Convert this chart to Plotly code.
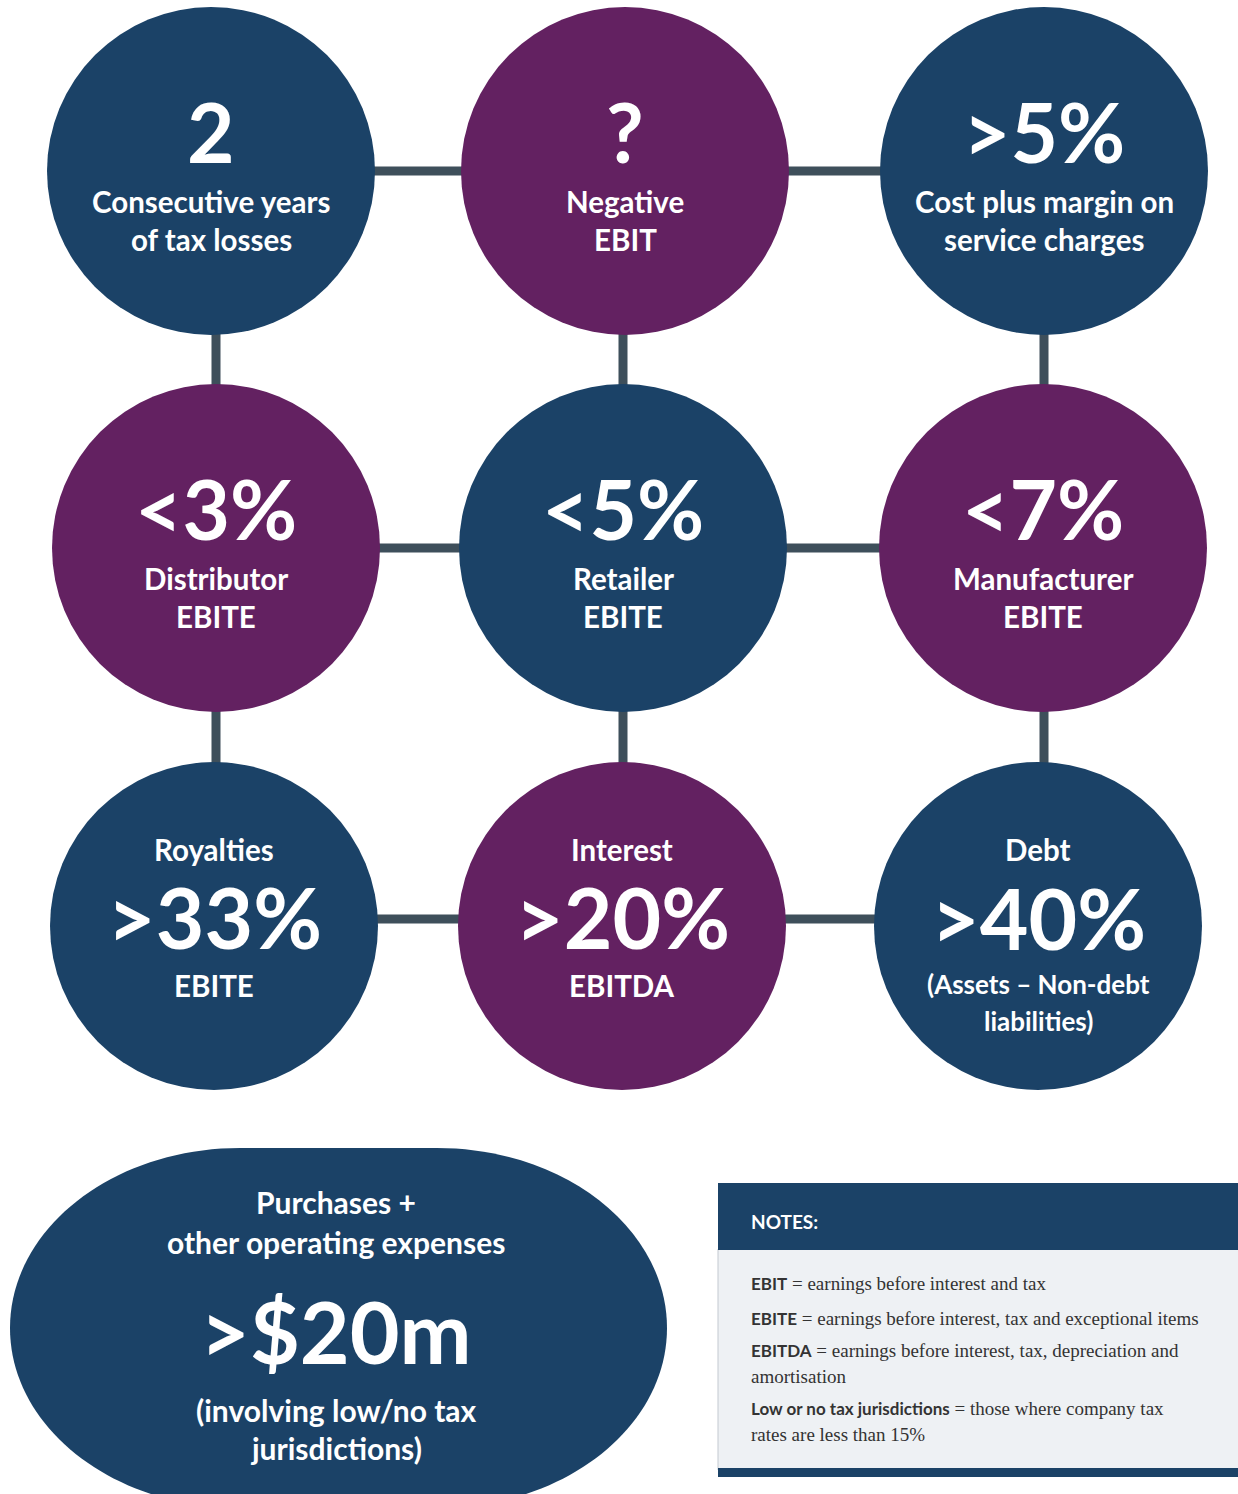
import plotly.graph_objects as go

# ---------------- data ----------------
metric_values = ["2", "?", ">5%", "<3%", "<5%", "<7%", ">33%", ">20%", ">40%"]
metric_headers = ["", "", "", "", "", "", "Royalties", "Interest", "Debt"]
metric_captions = [
    ["Consecutive years", "of tax losses"],
    ["Negative", "EBIT"],
    ["Cost plus margin on", "service charges"],
    ["Distributor", "EBITE"],
    ["Retailer", "EBITE"],
    ["Manufacturer", "EBITE"],
    ["EBITE"],
    ["EBITDA"],
    ["(Assets – Non-debt", "liabilities)"],
]
metric_kind = ["navy", "purple", "navy", "purple", "navy", "purple", "navy", "purple", "navy"]

pill_header = ["Purchases +", "other operating expenses"]
pill_value = ">$20m"
pill_footer = ["(involving low/no tax", "jurisdictions)"]

notes_title = "NOTES:"
notes_terms = ["EBIT", "EBITE", "EBITDA", "Low or no tax jurisdictions"]
notes_defs = [
    ["earnings before interest and tax"],
    ["earnings before interest, tax and exceptional items"],
    ["earnings before interest, tax, depreciation and", "amortisation"],
    ["those where company tax", "rates are less than 15%"],
]

# ---------------- layout (pixel positions) ----------------
W, H = 1238, 1494
NAVY = "#1b4267"
PURPLE = "#632161"
LINE = "#3e4f5b"
col_x = [[211, 625, 1044], [216, 623, 1043], [214, 622, 1038]]
row_y = [171, 548, 926]
R = 164
FONT = "Lato, 'Open Sans', sans-serif"

fig = go.Figure()
fig.add_trace(go.Scatter(x=[0, W], y=[0, H], mode="markers", marker=dict(opacity=0), hoverinfo="skip", showlegend=False))

shapes = []
# connectors
conn_x = [216, 623, 1044]
for r in range(3):
    yy = row_y[r] - (0 if r < 2 else 7)
    shapes.append(dict(type="line", x0=col_x[r][0], x1=col_x[r][2], y0=yy, y1=yy,
                       line=dict(color=LINE, width=9), layer="below"))
for c in range(3):
    shapes.append(dict(type="line", x0=conn_x[c], x1=conn_x[c], y0=row_y[0], y1=row_y[2],
                       line=dict(color=LINE, width=9), layer="below"))

annotations = []

def txt(x, y, s, size, bold=False, color="white", family=FONT, xanchor="center"):
    annotations.append(dict(x=x, y=y, xref="x", yref="y", text=("<b>%s</b>" % s) if bold else s,
                            showarrow=False, xanchor=xanchor, yanchor="middle", borderpad=0,
                            font=dict(family=family, size=size, color=color)))

for i in range(9):
    r, c = divmod(i, 3)
    cx, cy = col_x[r][c], row_y[r]
    col = NAVY if metric_kind[i] == "navy" else PURPLE
    shapes.append(dict(type="circle", x0=cx - R, x1=cx + R, y0=cy - R, y1=cy + R,
                       fillcolor=col, line=dict(width=0), layer="above"))
    if r < 2:
        txt(cx, cy - 40, metric_values[i], 82, bold=True)
        for k, line in enumerate(metric_captions[i]):
            txt(cx, cy + 30 + 38 * k, line, 29.5, bold=True)
    else:
        txt(cx, cy - 77, metric_headers[i], 29.5, bold=True)
        if len(metric_captions[i]) == 1:
            txt(cx, cy - 10, metric_values[i], 84, bold=True)
            txt(cx, cy + 59, metric_captions[i][0], 29.5, bold=True)
        else:
            txt(cx, cy - 9, metric_values[i], 84, bold=True)
            for k, line in enumerate(metric_captions[i]):
                txt(cx, cy + 58 + 37 * k, line, 26, bold=True)

# pill shape (rounded rect with bezier corners)
x0, x1, y0, y1 = 10, 667, 1148, 1508
rx, ry = 230, 180
k = 0.5523
path = (f"M {x0+rx},{y0} L {x1-rx},{y0} "
        f"C {x1-rx+rx*k},{y0} {x1},{y0+ry-ry*k} {x1},{y0+ry} "
        f"L {x1},{y1-ry} "
        f"C {x1},{y1-ry+ry*k} {x1-rx+rx*k},{y1} {x1-rx},{y1} "
        f"L {x0+rx},{y1} "
        f"C {x0+rx-rx*k},{y1} {x0},{y1-ry+ry*k} {x0},{y1-ry} "
        f"L {x0},{y0+ry} "
        f"C {x0},{y0+ry-ry*k} {x0+rx-rx*k},{y0} {x0+rx},{y0} Z")
shapes.append(dict(type="path", path=path, fillcolor=NAVY, line=dict(width=0), layer="above"))
px = 336
txt(px, 1202, pill_header[0], 30, bold=True)
txt(px, 1242, pill_header[1], 30, bold=True)
txt(px, 1330, pill_value, 86, bold=True)
txt(px, 1410, pill_footer[0], 30, bold=True)
txt(px, 1448, pill_footer[1], 30, bold=True)

# notes box
shapes.append(dict(type="rect", x0=718, x1=W + 2, y0=1249, y1=1470, fillcolor="#eef1f4",
                   line=dict(color="#c3c9d0", width=1), layer="above"))
shapes.append(dict(type="rect", x0=718, x1=W + 2, y0=1183, y1=1250, fillcolor=NAVY,
                   line=dict(width=0), layer="above"))
shapes.append(dict(type="rect", x0=718, x1=W + 2, y0=1468, y1=1477, fillcolor=NAVY,
                   line=dict(width=0), layer="above"))
txt(750, 1221, notes_title, 19, bold=True, family="Lato, sans-serif", xanchor="left")

SERIF = "'Liberation Serif', serif"
note_y = [[1283], [1318], [1350, 1376], [1408, 1434]]
for t, d, ys in zip(notes_terms, notes_defs, note_y):
    first = f"<span style='font-family:Lato;font-size:17px'><b>{t}</b></span> = {d[0]}"
    txt(750, ys[0], first, 19, color="#333333", family=SERIF, xanchor="left")
    for line, yy in zip(d[1:], ys[1:]):
        txt(750, yy, line, 19, color="#333333", family=SERIF, xanchor="left")

fig.update_layout(
    width=W, height=H, margin=dict(l=0, r=0, t=0, b=0),
    paper_bgcolor="white", plot_bgcolor="white",
    xaxis=dict(range=[0, W], visible=False, fixedrange=True),
    yaxis=dict(range=[H, 0], visible=False, fixedrange=True),
    shapes=shapes, annotations=annotations, showlegend=False,
)

fig.write_html("out.html", config={"displayModeBar": False},
               post_script="document.body.style.margin='0';document.body.style.overflow='hidden';")
